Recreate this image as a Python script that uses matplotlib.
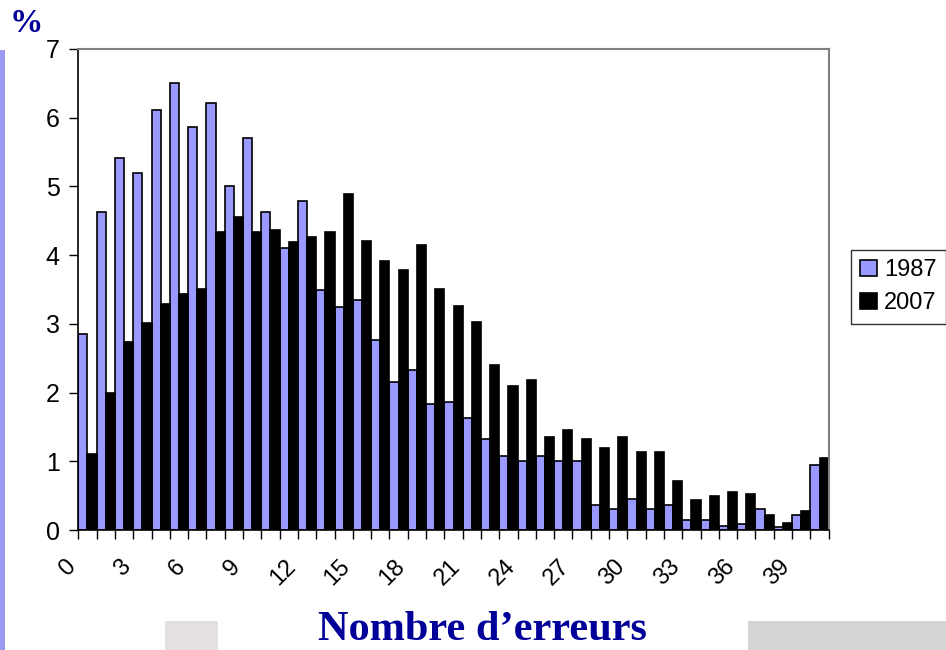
import matplotlib
matplotlib.use("Agg")
import matplotlib.pyplot as plt
import matplotlib.transforms as mtransforms
from matplotlib.patches import Rectangle
import numpy as np

# Nombre d'erreurs 0..40, pourcentages
erreurs = list(range(41))
v1987 = [2.85, 4.63, 5.41, 5.19, 6.11, 6.51, 5.87, 6.21, 5.01, 5.71,
         4.63, 4.11, 4.79, 3.50, 3.25, 3.35, 2.76, 2.15, 2.33, 1.84,
         1.87, 1.63, 1.32, 1.07, 1.01, 1.07, 1.01, 1.01, 0.36, 0.30,
         0.45, 0.30, 0.36, 0.15, 0.15, 0.06, 0.09, 0.30, 0.05, 0.22,
         0.95]
v2007 = [1.11, 2.00, 2.74, 3.01, 3.29, 3.44, 3.51, 4.34, 4.55, 4.34,
         4.37, 4.19, 4.27, 4.34, 4.89, 4.21, 3.91, 3.78, 4.15, 3.51,
         3.26, 3.02, 2.40, 2.09, 2.18, 1.36, 1.46, 1.33, 1.20, 1.36,
         1.14, 1.14, 0.71, 0.44, 0.50, 0.56, 0.53, 0.22, 0.10, 0.28,
         1.05]
labels_x = list(range(0, 40, 3))
annees = ["1987", "2007"]

bleu = "#9999ff"
titre_couleur = "#000099"

fig = plt.figure(figsize=(9.46, 6.5), dpi=100)
fig.patch.set_facecolor("white")

# décor de la diapo
fig.patches.append(Rectangle((0, 0), 5 / 946, 600 / 650, transform=fig.transFigure,
                             facecolor="#9a9af0", edgecolor="none", zorder=0))
fig.patches.append(Rectangle((748 / 946, 0), 198 / 946, 29 / 650, transform=fig.transFigure,
                             facecolor="#d6d3d3", edgecolor="none", zorder=0))
fig.patches.append(Rectangle((165 / 946, 0), 53 / 946, 29 / 650, transform=fig.transFigure,
                             facecolor="#e4e0e0", edgecolor="none", zorder=0))

ax = fig.add_axes([78.3 / 946, 120 / 650, 750.4 / 946, 481 / 650])

x = np.array(erreurs)
larg = 0.5
ax.bar(x - larg / 2, v1987, width=larg, color=bleu, edgecolor="black", linewidth=1.2, label=annees[0])
ax.bar(x + larg / 2, v2007, width=larg, color="black", edgecolor="black", linewidth=1.2, label=annees[1])

ax.set_xlim(-0.5, 40.5)
ax.set_ylim(0, 7)

# axes façon Excel
for s in ["top", "right"]:
    ax.spines[s].set_color("#808080")
    ax.spines[s].set_linewidth(1.5)
for s in ["left", "bottom"]:
    ax.spines[s].set_color("black")
    ax.spines[s].set_linewidth(1.2)

ax.set_yticks(range(0, 8))
ax.tick_params(axis="y", length=6.5, width=1, pad=7, labelsize=18)
for t in ax.get_yticklabels():
    t.set_fontfamily("Liberation Sans")

ax.set_xticks(np.arange(-0.5, 41, 1))
ax.set_xticklabels([])
ax.tick_params(axis="x", which="major", length=6.5, width=1)
ax.set_xticks(labels_x, minor=True)
ax.tick_params(axis="x", which="minor", length=0, pad=24, labelsize=17)
ax.set_xticklabels([str(v) for v in labels_x], minor=True, rotation=45,
                   ha="right", va="center", rotation_mode="anchor")
decal = mtransforms.ScaledTranslation(-15 / 100, 0, fig.dpi_scale_trans)
for t in ax.get_xticklabels(minor=True):
    t.set_fontfamily("Liberation Sans")
    t.set_fontsize(17)
    t.set_transform(t.get_transform() + decal)

leg = ax.legend(loc="upper left", bbox_to_anchor=(851 / 946, 1 - 250 / 650),
                bbox_transform=fig.transFigure, frameon=True, fancybox=False,
                prop={"family": "Liberation Sans", "size": 17},
                handlelength=0.7, handleheight=0.7, handletextpad=0.3,
                borderpad=0.4, labelspacing=0.45, borderaxespad=0)
leg.get_frame().set_edgecolor("black")
leg.get_frame().set_linewidth(1)

fig.text(26 / 946, 1 - 24 / 650, "%", ha="center", va="center", fontsize=24,
         fontweight="bold", fontfamily="Liberation Serif", color=titre_couleur)
fig.text(482 / 946, 1 - 640 / 650, "Nombre d\u2019erreurs", ha="center", va="baseline",
         fontsize=30.5, fontweight="bold", fontfamily="Liberation Serif", color=titre_couleur)

fig.savefig("out.png", dpi=100)
